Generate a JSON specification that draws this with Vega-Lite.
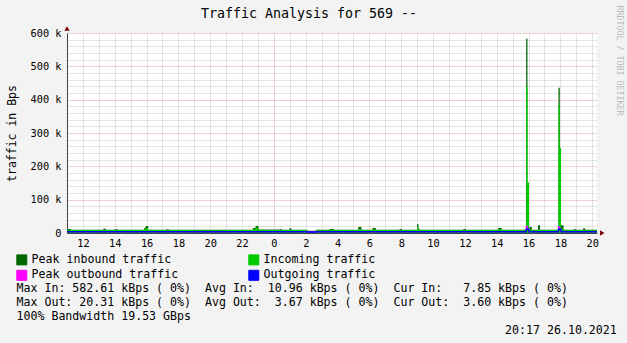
{
  "$schema": "https://vega.github.io/schema/vega-lite/v6.json",
  "width": 530,
  "height": 200,
  "autosize": {"type": "none"},
  "padding": {"left": 67, "top": 33, "right": 30, "bottom": 110},
  "background": "#F3F3F3",
  "config": {"font": "DejaVu Sans Mono", "view": {"stroke": null, "fill": "#FFFFFF"}},
  "title": {"text": "Traffic Analysis for 569 --", "fontSize": 13.3, "fontWeight": "normal", "color": "#000000", "anchor": "middle", "frame": "group", "dx": -23, "dy": 19},
  "data": {"values": [
    {"h": 11.00, "pin": 12000, "in": 10000, "pout": 4000, "out": 4000},
    {"h": 11.25, "pin": 10000, "in": 8800, "pout": 3700, "out": 3700},
    {"h": 13.28, "pin": 12500, "in": 9500, "pout": 3700, "out": 3700},
    {"h": 13.45, "pin": 10000, "in": 8800, "pout": 3600, "out": 3600},
    {"h": 14.00, "pin": 11500, "in": 9200, "pout": 3600, "out": 3600},
    {"h": 14.20, "pin": 10000, "in": 8800, "pout": 3600, "out": 3600},
    {"h": 15.86, "pin": 16000, "in": 12000, "pout": 3800, "out": 3800},
    {"h": 15.95, "pin": 21000, "in": 15000, "pout": 3900, "out": 3900},
    {"h": 16.10, "pin": 10000, "in": 8800, "pout": 3600, "out": 3600},
    {"h": 17.23, "pin": 11500, "in": 9000, "pout": 3600, "out": 3600},
    {"h": 17.40, "pin": 10000, "in": 8800, "pout": 3600, "out": 3600},
    {"h": 19.00, "pin": 9800, "in": 8500, "pout": 3500, "out": 3500},
    {"h": 21.00, "pin": 10000, "in": 8800, "pout": 3600, "out": 3600},
    {"h": 22.68, "pin": 15000, "in": 11000, "pout": 3800, "out": 3800},
    {"h": 22.85, "pin": 21000, "in": 16000, "pout": 3900, "out": 3900},
    {"h": 23.03, "pin": 10800, "in": 9000, "pout": 3600, "out": 3600},
    {"h": 24.40, "pin": 12000, "in": 9500, "pout": 3600, "out": 3600},
    {"h": 24.50, "pin": 10000, "in": 8800, "pout": 3600, "out": 3600},
    {"h": 24.98, "pin": 14000, "in": 10500, "pout": 3700, "out": 3700},
    {"h": 25.10, "pin": 10000, "in": 8700, "pout": 3600, "out": 3600},
    {"h": 26.10, "pin": 6500, "in": 5500, "pout": 3000, "out": 3000},
    {"h": 26.66, "pin": 9800, "in": 8500, "pout": 3600, "out": 3600},
    {"h": 27.50, "pin": 12000, "in": 9500, "pout": 3600, "out": 3600},
    {"h": 27.75, "pin": 10000, "in": 8800, "pout": 3600, "out": 3600},
    {"h": 29.30, "pin": 18000, "in": 12000, "pout": 3700, "out": 3700},
    {"h": 29.50, "pin": 10000, "in": 8800, "pout": 3600, "out": 3600},
    {"h": 30.20, "pin": 15000, "in": 10500, "pout": 3600, "out": 3600},
    {"h": 30.40, "pin": 10000, "in": 8800, "pout": 3600, "out": 3600},
    {"h": 31.90, "pin": 12000, "in": 9500, "pout": 3600, "out": 3600},
    {"h": 32.05, "pin": 10000, "in": 8800, "pout": 3600, "out": 3600},
    {"h": 33.00, "pin": 27000, "in": 19000, "pout": 3900, "out": 3900},
    {"h": 33.08, "pin": 13000, "in": 11000, "pout": 3700, "out": 3700},
    {"h": 33.15, "pin": 10000, "in": 8800, "pout": 3600, "out": 3600},
    {"h": 35.90, "pin": 12000, "in": 9500, "pout": 3600, "out": 3600},
    {"h": 36.07, "pin": 10000, "in": 8800, "pout": 3600, "out": 3600},
    {"h": 38.10, "pin": 15000, "in": 11000, "pout": 3700, "out": 3700},
    {"h": 38.30, "pin": 10000, "in": 8800, "pout": 3600, "out": 3600},
    {"h": 39.85, "pin": 582610, "in": 439000, "pout": 20310, "out": 11000},
    {"h": 39.93, "pin": 151000, "in": 151000, "pout": 12000, "out": 11000},
    {"h": 40.02, "pin": 10000, "in": 8800, "pout": 3600, "out": 3600},
    {"h": 40.06, "pin": 18000, "in": 12000, "pout": 3700, "out": 3700},
    {"h": 40.20, "pin": 10000, "in": 8800, "pout": 3600, "out": 3600},
    {"h": 40.60, "pin": 23000, "in": 10000, "pout": 3700, "out": 3700},
    {"h": 40.72, "pin": 10000, "in": 8800, "pout": 3600, "out": 3600},
    {"h": 41.88, "pin": 436000, "in": 384000, "pout": 19000, "out": 11000},
    {"h": 41.96, "pin": 255000, "in": 255000, "pout": 12000, "out": 11000},
    {"h": 42.04, "pin": 23000, "in": 14000, "pout": 3800, "out": 3800},
    {"h": 42.20, "pin": 10000, "in": 8800, "pout": 3600, "out": 3600},
    {"h": 42.85, "pin": 12000, "in": 9500, "pout": 3600, "out": 3600},
    {"h": 42.97, "pin": 10000, "in": 8800, "pout": 3600, "out": 3600},
    {"h": 43.43, "pin": 14000, "in": 10000, "pout": 3600, "out": 3600},
    {"h": 43.55, "pin": 9500, "in": 8000, "pout": 3600, "out": 3600},
    {"h": 44.30, "pin": 9500, "in": 7850, "pout": 3600, "out": 3600}
  ]},
  "layer": [
    {
      "mark": {"type": "area", "interpolate": "step-after", "opacity": 1},
      "encoding": {
        "x": {
          "field": "h", "type": "quantitative",
          "scale": {"domain": [11, 44.3], "nice": false, "zero": false},
          "axis": {
            "orient": "bottom",
            "values": [11,12,13,14,15,16,17,18,19,20,21,22,23,24,25,26,27,28,29,30,31,32,33,34,35,36,37,38,39,40,41,42,43,44],
            "labelExpr": "datum.value % 2 == 0 ? format(datum.value % 24, 'd') : ''",
            "labelFont": "DejaVu Sans Mono", "labelFontSize": 10.3, "labelColor": "#000000",
            "labelPadding": 5, "ticks": false, "labelOverlap": false, "labelFlush": false,
            "domainColor": "#444444",
            "grid": true,
            "gridColor": {"condition": {"test": "datum.value == 24", "value": "#E0A0A0"}, "value": "#C8C8C8"},
            "gridDash": [1, 1],
            "title": [
              "Max In: 582.61 kBps ( 0%)\u00a0\u00a0Avg In:\u00a0\u00a010.96 kBps ( 0%)\u00a0\u00a0Cur In:\u00a0\u00a0\u00a07.85 kBps ( 0%)",
              "Max Out: 20.31 kBps ( 0%)\u00a0\u00a0Avg Out:\u00a0\u00a03.67 kBps ( 0%)\u00a0\u00a0Cur Out:\u00a0\u00a03.60 kBps ( 0%)",
              "100% Bandwidth 19.53 GBps",
              "\u200b\u00a0\u00a0\u00a0\u00a0\u00a0\u00a0\u00a0\u00a0\u00a0\u00a0\u00a0\u00a0\u00a0\u00a0\u00a0\u00a0\u00a0\u00a0\u00a0\u00a0\u00a0\u00a0\u00a0\u00a0\u00a0\u00a0\u00a0\u00a0\u00a0\u00a0\u00a0\u00a0\u00a0\u00a0\u00a0\u00a0\u00a0\u00a0\u00a0\u00a0\u00a0\u00a0\u00a0\u00a0\u00a0\u00a0\u00a0\u00a0\u00a0\u00a0\u00a0\u00a0\u00a0\u00a0\u00a0\u00a0\u00a0\u00a0\u00a0\u00a0\u00a0\u00a0\u00a0\u00a0\u00a0\u00a0\u00a0\u00a0\u00a0\u00a020:17 26.10.2021"
            ],
            "titleFont": "DejaVu Sans Mono", "titleFontSize": 11.6, "titleFontWeight": "normal", "titleColor": "#000000",
            "titleAlign": "left", "titleAnchor": "start", "titleBaseline": "alphabetic",
            "titleX": -51, "titleY": 58, "titleLineHeight": 14, "titleLimit": 0
          }
        },
        "y": {
          "field": "pin", "type": "quantitative",
          "scale": {"domain": [0, 600000], "nice": false},
          "axis": {
            "values": [0,20000,40000,60000,80000,100000,120000,140000,160000,180000,200000,220000,240000,260000,280000,300000,320000,340000,360000,380000,400000,420000,440000,460000,480000,500000,520000,540000,560000,580000,600000],
            "labelExpr": "datum.value % 100000 == 0 ? (datum.value == 0 ? '0' : (datum.value / 1000) + ' k') : ''",
            "labelFont": "DejaVu Sans Mono", "labelFontSize": 10.3, "labelColor": "#000000",
            "labelPadding": 6, "ticks": false, "labelOverlap": false, "labelFlush": false,
            "domainColor": "#444444",
            "grid": true,
            "gridColor": {"condition": {"test": "datum.value % 100000 == 0", "value": "#E0A0A0"}, "value": "#C8C8C8"},
            "gridDash": [1, 1],
            "title": "traffic in Bps",
            "titleFont": "DejaVu Sans Mono", "titleFontSize": 11.5, "titleFontWeight": "normal", "titleColor": "#000000",
            "titleX": -55, "titleY": 100, "titleAngle": -90, "titleAlign": "center", "titleBaseline": "middle"
          }
        },
        "color": {
          "datum": "Peak inbound traffic",
          "scale": {
            "domain": ["Peak inbound traffic", "Incoming traffic", "Peak outbound traffic", "Outgoing traffic"],
            "range": ["#006600", "#00CC00", "#FF00FF", "#0000FF"]
          },
          "legend": {
            "orient": "none", "legendX": -51, "legendY": 221, "direction": "horizontal",
            "columns": 2, "title": null, "gridAlign": "each",
            "symbolType": "square", "symbolSize": 100, "symbolStrokeColor": "#000000", "symbolStrokeWidth": 1, "symbolOpacity": 1,
            "labelFont": "DejaVu Sans Mono", "labelFontSize": 11.6, "labelColor": "#000000", "labelOffset": 4, "labelLimit": 0,
            "columnPadding": 67, "rowPadding": 0.5, "padding": 0,
            "encode": {"symbols": {"update": {"fill": {"scale": "color", "field": "value"}, "stroke": {"value": "#000000"}, "strokeWidth": {"value": 1}, "opacity": {"value": 1}}}}
          }
        }
      }
    },
    {
      "mark": {"type": "area", "interpolate": "step-after", "opacity": 1},
      "encoding": {
        "x": {"field": "h", "type": "quantitative", "axis": null},
        "y": {"field": "in", "type": "quantitative", "axis": null},
        "color": {"datum": "Incoming traffic"}
      }
    },
    {
      "mark": {"type": "line", "interpolate": "step-after", "strokeWidth": 1},
      "encoding": {
        "x": {"field": "h", "type": "quantitative", "axis": null},
        "y": {"field": "pout", "type": "quantitative", "axis": null},
        "color": {"datum": "Peak outbound traffic"}
      }
    },
    {
      "mark": {"type": "line", "interpolate": "step-after", "strokeWidth": 1.5},
      "encoding": {
        "x": {"field": "h", "type": "quantitative", "axis": null},
        "y": {"field": "out", "type": "quantitative", "axis": null},
        "color": {"datum": "Outgoing traffic"}
      }
    },
    {
      "data": {"values": [{}]},
      "mark": {"type": "point", "shape": "triangle-up", "filled": true, "size": 28, "color": "#7F0000", "opacity": 1},
      "encoding": {
        "x": {"datum": 11, "type": "quantitative", "axis": null},
        "y": {
          "datum": 613500, "type": "quantitative",
          "axis": {
            "orient": "right", "labels": false, "ticks": false, "domain": false, "grid": false,
            "title": "RRDTOOL / TOBI OETIKER",
            "titleFont": "DejaVu Sans Mono", "titleFontSize": 8.3, "titleFontWeight": "normal", "titleColor": "#BBBBBB",
            "titleAngle": 90, "titleX": 21, "titleY": 27, "titleAlign": "center", "titleBaseline": "middle"
          }
        }
      }
    },
    {
      "data": {"values": [{}]},
      "mark": {"type": "point", "shape": "triangle-right", "filled": true, "size": 28, "color": "#7F0000", "opacity": 1},
      "encoding": {
        "x": {"datum": 44.63, "type": "quantitative", "axis": null},
        "y": {"datum": 0, "type": "quantitative", "axis": null}
      }
    }
  ],
  "resolve": {"axis": {"x": "independent", "y": "independent"}}
}
